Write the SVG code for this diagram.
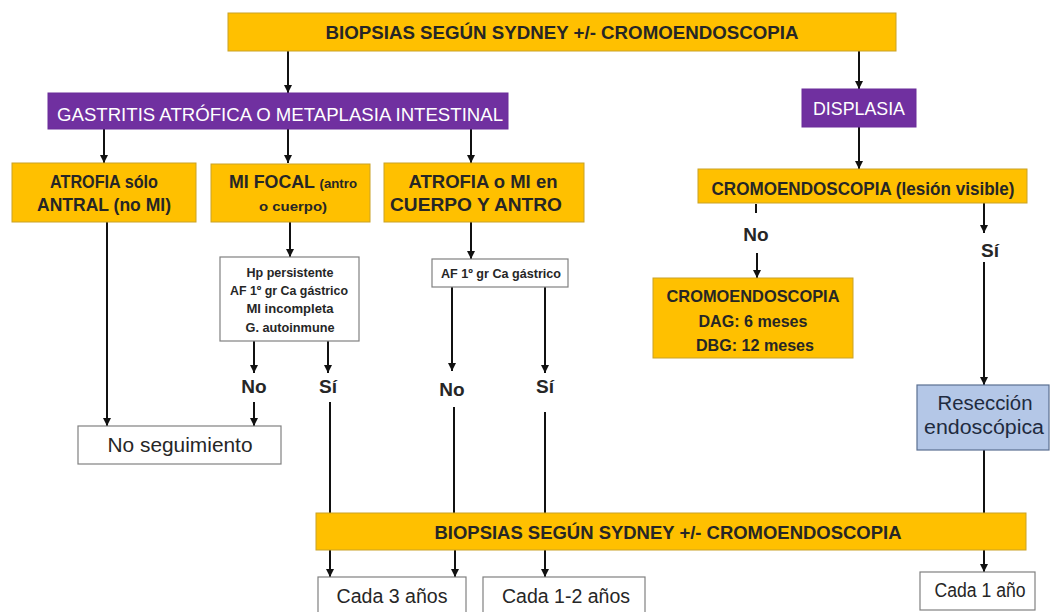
<svg xmlns="http://www.w3.org/2000/svg" width="1051" height="612" viewBox="0 0 1051 612">
<style>
text{font-family:"Liberation Sans",Arial,sans-serif;text-anchor:middle;fill:#262626}
.or{fill:#FFC000;stroke:#C9A227;stroke-width:1}
.pu{fill:#7030A0;stroke:#6A2C99;stroke-width:1}
.wh{fill:#FFFFFF;stroke:#808080;stroke-width:1.2}
.bl{fill:#B4C7E7;stroke:#5A6F91;stroke-width:1.2}
.b{font-weight:bold}
.w{fill:#FFFFFF;font-size:19px}
.lbl{font-size:17.5px;font-weight:bold}
.sm{font-size:12.5px;font-weight:bold}
.yn{font-size:19px;font-weight:bold}
.reg{font-size:20px}
.cx line{stroke:#111;stroke-width:2}
.ar{marker-end:url(#ah)}
</style>
<defs>
<marker id="ah" markerUnits="userSpaceOnUse" markerWidth="9" markerHeight="9" refX="8" refY="4" orient="auto">
<path d="M0,0 L8,4 L0,8 z" fill="#111"/>
</marker>
</defs>
<rect width="1051" height="612" fill="#FFFFFF"/>

<g id="connectors" class="cx">
<line class="ar" x1="288" y1="51" x2="288" y2="93"/>
<line class="ar" x1="859" y1="51" x2="859" y2="89"/>
<line class="ar" x1="104" y1="129" x2="104" y2="163"/>
<line class="ar" x1="288" y1="129" x2="288" y2="163"/>
<line class="ar" x1="471" y1="129" x2="471" y2="163"/>
<line class="ar" x1="859" y1="127" x2="859" y2="169"/>
<line class="ar" x1="107" y1="222" x2="107" y2="426"/>
<line class="ar" x1="290" y1="222" x2="290" y2="257"/>
<line class="ar" x1="471" y1="222" x2="471" y2="259"/>
<line class="ar" x1="254" y1="341" x2="254" y2="373"/>
<line class="ar" x1="254" y1="402" x2="254" y2="426"/>
<line class="ar" x1="328" y1="341" x2="328" y2="373"/>
<line x1="330" y1="402" x2="330" y2="513"/>
<line class="ar" x1="452" y1="287" x2="452" y2="371"/>
<line x1="454" y1="407" x2="454" y2="513"/>
<line class="ar" x1="545" y1="287" x2="545" y2="373"/>
<line x1="545" y1="412" x2="545" y2="513"/>
<line x1="756" y1="204" x2="756" y2="213"/>
<line class="ar" x1="757" y1="253" x2="757" y2="278"/>
<line class="ar" x1="984" y1="203" x2="984" y2="233"/>
<line class="ar" x1="984" y1="262" x2="984" y2="385"/>
<line x1="984" y1="450" x2="984" y2="513"/>
<line class="ar" x1="330" y1="550" x2="330" y2="577"/>
<line class="ar" x1="455" y1="550" x2="455" y2="577"/>
<line class="ar" x1="545" y1="550" x2="545" y2="577"/>
<line class="ar" x1="984" y1="550" x2="984" y2="572"/>
</g>

<g id="top">
<rect class="or" x="228" y="13" width="668" height="38"/>
<text class="b" x="562" y="39" font-size="18.5" textLength="473" lengthAdjust="spacingAndGlyphs">BIOPSIAS SEGÚN SYDNEY +/- CROMOENDOSCOPIA</text>
</g>
<g id="gastritis">
<rect class="pu" x="48" y="93" width="460" height="36"/>
<text class="w" x="280" y="121" textLength="446" lengthAdjust="spacingAndGlyphs">GASTRITIS ATRÓFICA O METAPLASIA INTESTINAL</text>
</g>
<g id="displasia">
<rect class="pu" x="802" y="89" width="114" height="38"/>
<text class="w" x="859" y="115" textLength="92" lengthAdjust="spacingAndGlyphs">DISPLASIA</text>
</g>
<g id="atrofia-antral">
<rect class="or" x="12" y="163" width="184" height="59"/>
<text class="lbl" x="104" y="188" textLength="108" lengthAdjust="spacingAndGlyphs">ATROFIA sólo</text>
<text class="lbl" x="104" y="211" textLength="134" lengthAdjust="spacingAndGlyphs">ANTRAL (no  MI)</text>
</g>
<g id="mi-focal">
<rect class="or" x="211" y="164" width="159" height="58"/>
<text x="293" y="188" class="b" textLength="128" lengthAdjust="spacingAndGlyphs"><tspan font-size="17.5">MI FOCAL </tspan><tspan font-size="13">(antro</tspan></text>
<text x="293" y="211" class="b" font-size="13" textLength="68" lengthAdjust="spacingAndGlyphs">o cuerpo)</text>
</g>
<g id="atrofia-cuerpo">
<rect class="or" x="384" y="163" width="200" height="59"/>
<text class="lbl" x="483" y="188" textLength="149" lengthAdjust="spacingAndGlyphs">ATROFIA o  MI en</text>
<text class="lbl" x="476" y="211" textLength="172" lengthAdjust="spacingAndGlyphs">CUERPO Y ANTRO</text>
</g>
<g id="cromo-lesion">
<rect class="or" x="698" y="169" width="329" height="34"/>
<text class="lbl" x="863" y="195" textLength="303" lengthAdjust="spacingAndGlyphs">CROMOENDOSCOPIA (lesión visible)</text>
</g>
<g id="hp-box">
<rect class="wh" x="220" y="257" width="139" height="84"/>
<text class="sm" x="290" y="277" textLength="87" lengthAdjust="spacingAndGlyphs">Hp persistente</text>
<text class="sm" x="289" y="295" textLength="118" lengthAdjust="spacingAndGlyphs">AF 1º gr Ca gástrico</text>
<text class="sm" x="290" y="313" textLength="87" lengthAdjust="spacingAndGlyphs">MI incompleta</text>
<text class="sm" x="290" y="332" textLength="89" lengthAdjust="spacingAndGlyphs">G. autoinmune</text>
</g>
<g id="af-box">
<rect class="wh" x="432" y="259" width="136" height="28"/>
<text class="sm" x="501" y="278" textLength="120" lengthAdjust="spacingAndGlyphs">AF 1º gr Ca gástrico</text>
</g>
<g id="labels">
<text class="yn" x="254" y="393">No</text>
<text class="yn" x="328" y="393">Sí</text>
<text class="yn" x="452" y="396">No</text>
<text class="yn" x="545" y="393">Sí</text>
<text class="yn" x="756" y="241">No</text>
<text class="yn" x="990" y="257">Sí</text>
</g>
<g id="dag-box">
<rect class="or" x="653" y="278" width="200" height="80"/>
<text class="b" font-size="17" x="753" y="302" textLength="173" lengthAdjust="spacingAndGlyphs">CROMOENDOSCOPIA</text>
<text class="b" font-size="17" x="753" y="327" textLength="109" lengthAdjust="spacingAndGlyphs">DAG: 6 meses</text>
<text class="b" font-size="17" x="755" y="351" textLength="118" lengthAdjust="spacingAndGlyphs">DBG: 12 meses</text>
</g>
<g id="no-seguimiento">
<rect class="wh" x="78" y="426" width="203" height="38"/>
<text class="reg" x="180" y="452" textLength="145" lengthAdjust="spacingAndGlyphs">No seguimiento</text>
</g>
<g id="reseccion">
<rect class="bl" x="917" y="385" width="132" height="65"/>
<text class="reg" x="985" y="410" textLength="95" lengthAdjust="spacingAndGlyphs" style="fill:#1F2B40">Resección</text>
<text class="reg" x="984" y="434" textLength="120" lengthAdjust="spacingAndGlyphs" style="fill:#1F2B40">endoscópica</text>
</g>
<g id="bottom">
<rect class="or" x="316" y="513" width="710" height="37"/>
<text class="b" x="668" y="539" font-size="18.5" textLength="467" lengthAdjust="spacingAndGlyphs">BIOPSIAS SEGÚN SYDNEY +/- CROMOENDOSCOPIA</text>
</g>
<g id="cada3">
<rect class="wh" x="318" y="577" width="148" height="42"/>
<text class="reg" x="392" y="603" textLength="111" lengthAdjust="spacingAndGlyphs">Cada 3 años</text>
</g>
<g id="cada12">
<rect class="wh" x="483" y="577" width="162" height="42"/>
<text class="reg" x="566" y="603" textLength="128" lengthAdjust="spacingAndGlyphs">Cada 1-2 años</text>
</g>
<g id="cada1">
<rect class="wh" x="920" y="572" width="115" height="38"/>
<text class="reg" x="980" y="597" textLength="91" lengthAdjust="spacingAndGlyphs">Cada 1 año</text>
</g>
</svg>
